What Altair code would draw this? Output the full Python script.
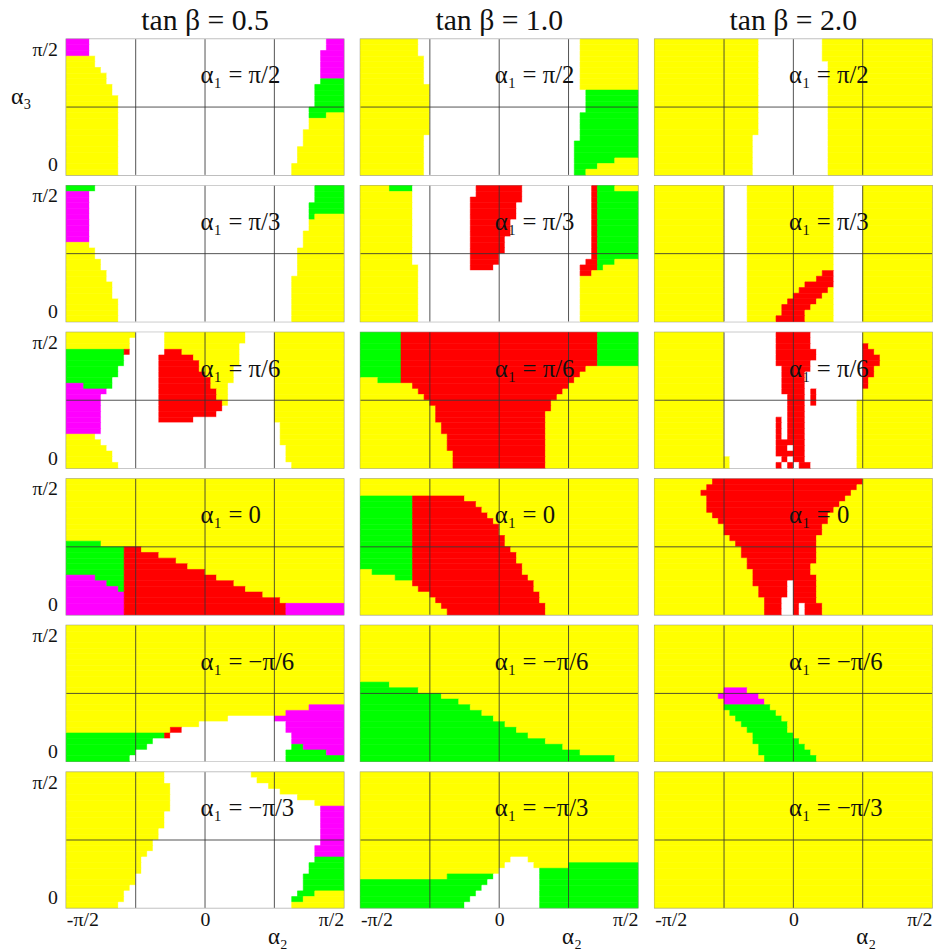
import math
import re
import altair as alt
import pandas as pd

PI = math.pi
N_A2 = 48   # cells along alpha2 (-pi/2 .. pi/2)
N_A3 = 24   # cells along alpha3 (pi/2 at top .. 0 at bottom)

tan_beta_titles = ["tan β = 0.5", "tan β = 1.0", "tan β = 2.0"]
alpha1_texts = ["α₁ = π/2", "α₁ = π/3", "α₁ = π/6", "α₁ = 0", "α₁ = −π/6", "α₁ = −π/3"]

region_codes = ["Y", "W", "G", "R", "M"]
region_colors = ["#ffff00", "#ffffff", "#00ff00", "#ff0000", "#ff00ff"]

grid_a2 = [-PI / 4, 0.0, PI / 4]
grid_a3 = [PI / 4]
x_tick_values = [-PI / 2, 0.0, PI / 2]
x_tick_labels = ["-π/2", "0", "π/2"]
y_tick_values = [0.0, PI / 2]
y_tick_labels = ["0", "π/2"]

label_a2 = -0.05
label_a3 = 1.15

# ---- region maps: one run-length string per alpha3 row (top row first) ----
P11 = ["M4W41M3", "M4W41M3", "M4W40M4", "Y5W39M4", "Y5W39M4", "Y6W38M4",
       "Y7W37M4", "Y7W37G4", "Y8W35G5", "Y8W35G5", "Y9W34G5", "Y9W34G5",
       "Y9W33G6", "Y9W33G3Y3", "Y9W33Y6", "Y9W33Y6", "Y9W32Y7", "Y9W32Y7",
       "Y9W32Y7", "Y9W31Y8", "Y9W31Y8", "Y9W31Y8", "Y9W30Y9", "Y9W30Y9"]
P12 = (["Y10W28Y10"] * 3 + ["Y11W27Y10"] * 5 + ["Y12W26Y10"] + ["Y12W27G9"] * 4
       + ["Y12W26G10"] * 4 + ["Y11W27G10"] + ["Y11W26G11"] * 3
       + ["Y11W26G7Y4", "Y11W26G4Y7", "Y11W26G2Y9"])
P13 = ["Y18W11Y19"] * 4 + ["Y18W12Y18"] * 13 + ["Y17W13Y18"] * 7

P21 = ["G5W38G5", "M4W39G5", "M4W39G5", "M4W38G6", "M4W38G6", "M4W38G1Y5",
       "M4W38Y6", "M4W38Y6", "M4W37Y7", "M4W37Y7", "Y4W37Y7", "Y5W35Y8",
       "Y5W35Y8", "Y6W34Y8", "Y6W34Y8", "Y7W33Y8", "Y7W32Y9", "Y8W31Y9",
       "Y8W31Y9", "Y8W31Y9", "Y9W30Y9", "Y9W30Y9", "Y9W30Y9", "Y9W30Y9"]
P22 = (["Y5G4W11R8W12R1G3Y4", "Y9W11R8W12R1G7", "Y9W10R9W12R1G7"]
       + ["Y9W10R8W13R1G7"] * 3 + ["Y9W10R7W14R1G7"] * 3 + ["Y9W10R6W15R1G7"] * 3
       + ["Y9W10R5W16R1G7", "Y9W10R5W15R2G3Y4", "Y10W9R4W15R3G1Y6", "Y10W28R2Y8"]
       + ["Y10W28Y10"] * 8)
P23 = (["Y12W4Y15W5Y12"] * 15
       + ["Y12W4Y13R2W5Y12", "Y12W4Y12R3W5Y12", "Y12W4Y10R5W5Y12",
          "Y12W4Y9R5Y1W5Y12", "Y12W4Y8R5Y2W5Y12", "Y12W4Y7R5Y3W5Y12",
          "Y12W4Y6R5Y4W5Y12", "Y12W4Y6R4Y5W5Y12", "Y12W4Y5R5Y5W5Y12"])

P31 = ["Y12W5Y14W5Y12", "Y11W6Y14W5Y12", "Y11W6Y13W6Y12", "G10R1W6R3Y10W6Y12",
       "G10W6R6Y8W6Y12", "G10W6R7Y7W6Y12", "G9W7R7Y6W7Y12", "G9W7R8Y5W7Y12",
       "G8W8R9Y4W7Y12", "M3G5W8R9Y3W8Y12", "M7W9R10Y2W8Y12", "M6W10R10Y2W8Y12",
       "M6W10R11Y1W8Y12", "M6W10R11W9Y12", "M6W10R10W10Y12", "M6W10R6W14Y12",
       "M6W31Y11", "M6W31Y11", "Y5W32Y11", "Y6W31Y11", "Y7W31Y10", "Y8W30Y10",
       "Y8W30Y10", "Y9W30Y9"]
P32 = (["G7R34G7"] * 6
       + ["G7R32Y9", "G7R31Y10", "Y3G4R30Y11", "Y9R27Y12", "Y10R25Y13", "Y11R23Y14",
          "Y12R21Y15", "Y13R20Y15", "Y13R19Y16", "Y13R19Y16", "Y14R18Y16", "Y14R18Y16",
          "Y15R17Y16", "Y15R17Y16", "Y15R17Y16", "Y16R16Y16", "Y16R16Y16", "Y16R16Y16"])
P33 = ["Y12W9R6W9Y12", "Y12W9R6W9Y12", "Y12W9R6W9R1Y11", "Y12W9R7W8R2Y10",
       "Y12W9R7W8R3Y9", "Y12W9R6W9R3Y9", "Y12W10R5W9R2Y10", "Y12W10R4W10R2Y10",
       "Y12W10R4W10R1Y11", "Y12W10R4W10R1Y11", "Y12W10R4W1R1W8Y12", "Y12W11R3W1R1W8Y12",
       "Y12W11R3W1R1W7Y13", "Y12W11R3W9Y13", "Y12W11R3W9Y13", "Y12W9R1W1R3W9Y13",
       "Y12W9R1W1R3W9Y13", "Y12W9R1W1R3W9Y13", "Y12W9R1W1R3W9Y13", "Y12W9R5W9Y13",
       "Y12W9R2W1R2W9Y13", "Y12W9R5W9Y13", "Y13W9R1W1R2W9Y13", "Y13W8R1W1R1W1R2W8Y13"]

P41 = (["Y48"] * 11
       + ["G6Y42", "G10R3Y35", "G10R6Y32", "G10R9Y29", "G10R11Y27", "G10R14Y24",
          "M5G5R16Y22", "M7G3R19Y19", "M9G1R21Y17", "M10R24Y14", "M10R27Y11",
          "M10R28M10", "M10R28M10"])
P42 = (["Y48"] * 3
       + ["G9R9Y30", "G9R11Y28", "G9R12Y27", "G9R13Y26", "G9R14Y25", "G9R15Y24",
          "G9R15Y24", "G9R16Y23", "G9R16Y23", "G9R17Y22", "G9R18Y21", "G9R18Y21",
          "G9R19Y20", "Y2G7R19Y20", "Y6G3R20Y19", "Y9R21Y18", "Y10R20Y18",
          "Y12R19Y17", "Y13R18Y17", "Y14R18Y16", "Y15R17Y16"])
P43 = ["Y10R26Y12", "Y9R26Y13", "Y8R26Y14", "Y9R24Y15", "Y9R23Y16", "Y9R22Y17",
       "Y10R20Y18", "Y11R19Y18", "Y12R17Y19", "Y12R17Y19", "Y13R15Y20", "Y14R14Y20",
       "Y15R13Y20", "Y15R13Y20", "Y16R12Y20", "Y16R11Y21", "Y17R10Y21", "Y17R11Y20",
       "Y17R6W1R4Y20", "Y18R5W1R4Y20", "Y18R5W1R4Y20", "Y19R3W2R4Y20",
       "Y19R3W2R1W1R3Y19", "Y19R3W2R1W1R3Y19"]

P51 = (["Y48"] * 14
       + ["Y42M6", "Y38M10", "Y28W8M12", "Y23W15M10", "Y18R2W18M10", "G17R1W21M9",
          "G15W24M9", "G14W25G2M7", "G12W26G7M3", "G11W27G10"])
P52 = (["Y48"] * 10
       + ["G5Y43", "G10Y38", "G14Y34", "G17Y31", "G19Y29", "G21Y27", "G23Y25",
          "G25Y23", "G27Y21", "G29Y19", "G32Y16", "G35Y13", "G38Y10", "G44Y4"])
P53 = (["Y48"] * 11
       + ["Y12M4Y32", "Y11M7Y30", "Y12M7Y29", "Y12G8Y28", "Y13G8Y27", "Y14G8Y26",
          "Y15G8Y25", "Y16G7Y25", "Y17G7Y24", "Y17G8Y23", "Y18G8Y22", "Y18G9Y21",
          "Y19G9Y20"])

P61 = ["Y17W15Y16", "Y17W16Y15", "Y18W17Y13", "Y18W19Y11", "Y18W22Y8", "Y18W25Y5",
       "Y18W26M4", "Y17W27M4", "Y17W27M4", "Y17W27M4", "Y16W28M4", "Y16W28M4",
       "Y15W29M4", "Y15W28M5", "Y14W29M5", "Y13W30G5", "Y13W29G6", "Y13W29G6",
       "Y12W29G7", "Y12W29G7", "Y11W30G7", "Y10W30G3Y5", "Y10W29G2Y7", "Y9W30Y9"]
P62 = (["Y48"] * 15
       + ["Y26W3Y19", "Y25W5Y6G12", "Y24W7G17", "Y15G8W8G17", "G22W9G17",
          "G21W10G17", "G20W11G17", "G19W12G17", "G18W13G17"])
P63 = ["Y48"] * 24

panel_maps = [[P11, P12, P13], [P21, P22, P23], [P31, P32, P33],
              [P41, P42, P43], [P51, P52, P53], [P61, P62, P63]]


def cells(rows):
    recs = []
    d2 = PI / N_A2
    d3 = (PI / 2) / N_A3
    for r, line in enumerate(rows):
        c = 0
        for code, n in re.findall(r"([A-Z])(\d+)", line):
            n = int(n)
            recs.append({"code": code,
                         "a2_lo": -PI / 2 + c * d2, "a2_hi": -PI / 2 + (c + n) * d2,
                         "a3_hi": PI / 2 - r * d3, "a3_lo": PI / 2 - (r + 1) * d3})
            c += n
    return pd.DataFrame(recs)


def label_expr(values, labels):
    expr = "''"
    for v, lab in zip(values, labels):
        expr = f"abs(datum.value - ({v:.6f})) < 0.01 ? '{lab}' : ({expr})"
    return expr


SERIF = "Liberation Serif"
INK = "#111111"
xscale = alt.Scale(domain=[-PI / 2, PI / 2], nice=False, zero=False)
yscale = alt.Scale(domain=[0, PI / 2], nice=False, zero=False)
cscale = alt.Scale(domain=region_codes, range=region_colors)


def x_axis(show):
    if not show:
        return None
    return alt.Axis(values=x_tick_values, labelExpr=label_expr(x_tick_values, x_tick_labels),
                    labelFlush=True, ticks=False, domain=False, grid=False,
                    labelFont=SERIF, labelFontSize=20, labelColor=INK, labelPadding=2,
                    title="α₂", titleFont=SERIF, titleFontSize=23, titleFontWeight="normal",
                    titleColor=INK, titleX=213, titleY=29, titleAlign="center",
                    titleBaseline="middle")


def y_axis(show, with_title):
    if not show:
        return None
    return alt.Axis(values=y_tick_values, labelExpr=label_expr(y_tick_values, y_tick_labels),
                    labelFlush=True, ticks=False, domain=False, grid=False,
                    labelFont=SERIF, labelFontSize=20, labelColor=INK, labelPadding=9,
                    title="α₃" if with_title else None, titleFont=SERIF, titleFontSize=24,
                    titleFontWeight="normal", titleColor=INK, titleAngle=0,
                    titleX=-46, titleY=58, titleAlign="center", titleBaseline="middle")


panels = []
for i, row_maps in enumerate(panel_maps):
    for j, rows in enumerate(row_maps):
        xa = x_axis(i == len(panel_maps) - 1)
        ya = y_axis(j == 0, i == 0)
        rects = alt.Chart(cells(rows)).mark_rect(strokeWidth=0.6).encode(
            x=alt.X("a2_lo:Q", scale=xscale, axis=xa),
            x2="a2_hi:Q",
            y=alt.Y("a3_hi:Q", scale=yscale, axis=ya),
            y2="a3_lo:Q",
            color=alt.Color("code:N", scale=cscale, legend=None),
            stroke=alt.Stroke("code:N", scale=cscale, legend=None),
        )
        vrules = alt.Chart(pd.DataFrame({"a2": grid_a2})).mark_rule(
            color="#333333", strokeWidth=1, opacity=0.85).encode(
            x=alt.X("a2:Q", scale=xscale, axis=xa))
        hrules = alt.Chart(pd.DataFrame({"a3": grid_a3})).mark_rule(
            color="#333333", strokeWidth=1, opacity=0.85).encode(
            y=alt.Y("a3:Q", scale=yscale, axis=ya))
        txt = alt.Chart(pd.DataFrame({"a2": [label_a2], "a3": [label_a3],
                                      "t": [alpha1_texts[i]]})).mark_text(
            align="left", baseline="middle", font=SERIF, fontSize=25, color=INK).encode(
            x=alt.X("a2:Q", scale=xscale, axis=xa),
            y=alt.Y("a3:Q", scale=yscale, axis=ya),
            text="t:N")
        layer = alt.layer(rects, vrules, hrules, txt).properties(width=280, height=137)
        if i == 0:
            layer = layer.properties(title=alt.TitleParams(
                text=tan_beta_titles[j], font=SERIF, fontSize=30, fontWeight="normal",
                color=INK, offset=3, anchor="middle"))
        panels.append(layer)

chart = alt.concat(*panels, columns=3, spacing={"row": 7, "column": 13}).configure_view(
    stroke="#909090", strokeWidth=1.5
).properties(
    background="white",
    padding={"left": 9, "top": 0, "right": 2, "bottom": 0},
)

chart.save("out.html", embed_options={"renderer": "svg", "actions": False})
